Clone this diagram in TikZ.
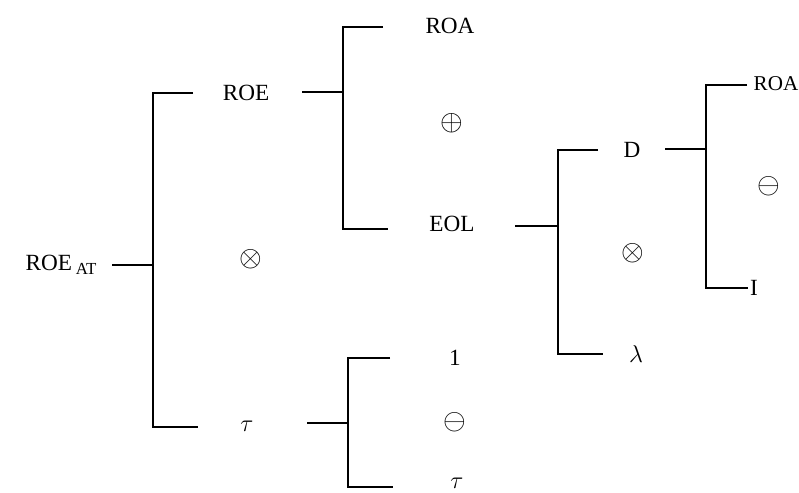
\documentclass[tikz,border=0pt]{standalone}
\usepackage{fontspec}
\setmainfont{Liberation Serif}
\tikzset{brk/.style={line width=0.9pt},
  lbl/.style={inner sep=1pt, font=\fontsize{16.5}{19}\selectfont},
  op/.style={inner sep=1pt, font=\fontsize{20}{22}\selectfont}}

\begin{document}
\begin{tikzpicture}[x=0.025cm, y=-0.025cm]
\useasboundingbox (0,0) rectangle (799,492);
% labels
\node[lbl] (roeat) at (61,265) {ROE\,\raisebox{-0.35ex}{\fontsize{12}{13}\selectfont AT}};
\node[lbl] (roe) at (246,93) {ROE};
\node[op] (mul1) at (251,259) {$\otimes$};
\node[lbl] (tau1) at (247,426) {$\tau$};
\node[lbl] (roa1) at (450,26) {ROA};
\node[op] (plus) at (452,123) {$\oplus$};
\node[lbl] (eol) at (452,224) {EOL};
\node[lbl] (d) at (632,150) {D};
\node[op] (mul2) at (633,253) {$\otimes$};
\node[lbl] (lam) at (636,354) {$\lambda$};
\node[lbl, anchor=west, font=\fontsize{15}{18}\selectfont] (roa2) at (752,84) {ROA};
\node[op] (minus1) at (769,186) {$\ominus$};
\node[lbl] (ii) at (754,288) {I};
\node[lbl] (one) at (455,358) {1};
\node[op] (minus2) at (455,422) {$\ominus$};
\node[lbl] (tau2) at (457,483) {$\tau$};
% bracket ends
\coordinate (s1) at (112,265); \coordinate (j1) at (153,265);
\coordinate (t1) at (193,93);  \coordinate (b1) at (198,427);
\coordinate (s2) at (302,92);  \coordinate (j2) at (343,92);
\coordinate (t2) at (383,27);  \coordinate (b2) at (388,229);
\coordinate (s3) at (515,226); \coordinate (j3) at (558,226);
\coordinate (t3) at (598,150); \coordinate (b3) at (603,354);
\coordinate (s4) at (665,149); \coordinate (j4) at (706,149);
\coordinate (t4) at (747,85);  \coordinate (b4) at (748,288);
\coordinate (s5) at (307,423); \coordinate (j5) at (348,423);
\coordinate (t5) at (390,358); \coordinate (b5) at (393,487);
\foreach \k in {1,...,5}{
  \draw[brk] (s\k) -- (j\k);
  \draw[brk] (t\k) -| (j\k) |- (b\k);
}
\end{tikzpicture}
\end{document}
